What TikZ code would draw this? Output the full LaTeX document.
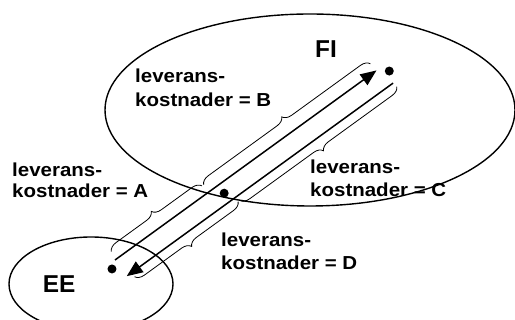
\documentclass[tikz,border=0pt]{standalone}
\usepackage{fontspec}
\setmainfont{Liberation Sans}
\newfontfamily\lblfont{Liberation Sans}[FakeStretch=1.09]
\usetikzlibrary{arrows.meta,decorations.pathreplacing}
\begin{document}
\begin{tikzpicture}[x=1pt,y=1pt,
  region/.style={draw, line width=1.4pt},
  flow/.style={line width=1.5pt, -{Triangle[length=16pt,width=13pt]}},
  brc/.style={draw, line width=0.8pt, decorate, decoration={brace, amplitude=9pt}},
  dot/.style={circle, fill, inner sep=0pt, minimum size=9pt},
  lbl/.style={anchor=base west, align=left, inner sep=0pt, font=\lblfont\bfseries\fontsize{18.8}{23.3}\selectfont},
  big/.style={anchor=base west, inner sep=0pt, font=\bfseries\fontsize{24.4}{28}\selectfont}]
\useasboundingbox (0,0) rectangle (515,320);
\clip (0,0) rectangle (515,320);
\draw[region] (310,210) ellipse [x radius=205, y radius=96];
\draw[region] (91,36) ellipse [x radius=82, y radius=47];
\begin{scope}[shift={(115,60)}, rotate=35.94]
  \coordinate (a1) at (0,0);
  \coordinate (a2) at (323,0);
  \coordinate (b1) at (329,-20);
  \coordinate (b2) at (0,-20);
  \coordinate (A1) at (2,9);
  \coordinate (A2) at (114,9);
  \coordinate (B1) at (116,9);
  \coordinate (B2) at (322,9);
  \coordinate (C1) at (330,-25);
  \coordinate (C2) at (136,-25);
  \coordinate (D1) at (134,-25);
  \coordinate (D2) at (6,-25);
  \draw[flow] (a1) -- (a2);
  \draw[flow] (b1) -- (b2);
  \draw[brc] (A1) -- (A2);
  \draw[brc] (B1) -- (B2);
  \draw[brc] (C1) -- (C2);
  \draw[brc] (D1) -- (D2);
  \node[dot] (ee) at (-7.7,-5.5) {};
  \node[dot] (fi) at (333,-8) {};
  \node[dot] (mid) at (127.6,-10) {};
\end{scope}
\node[big] (FI) at (315,262.7) {FI};
\node[big] (EE) at (42.7,27.3) {EE};
\node[lbl] (lA) at (12,122.5) {leverans-\\[-2.5pt]kostnader = A};
\node[lbl] (lB) at (135,213) {leverans-\\[0.7pt]kostnader = B};
\node[lbl] (lC) at (310,123.3) {leverans-\\kostnader = C};
\node[lbl] (lD) at (221,50) {leverans-\\kostnader = D};
\end{tikzpicture}
\end{document}
